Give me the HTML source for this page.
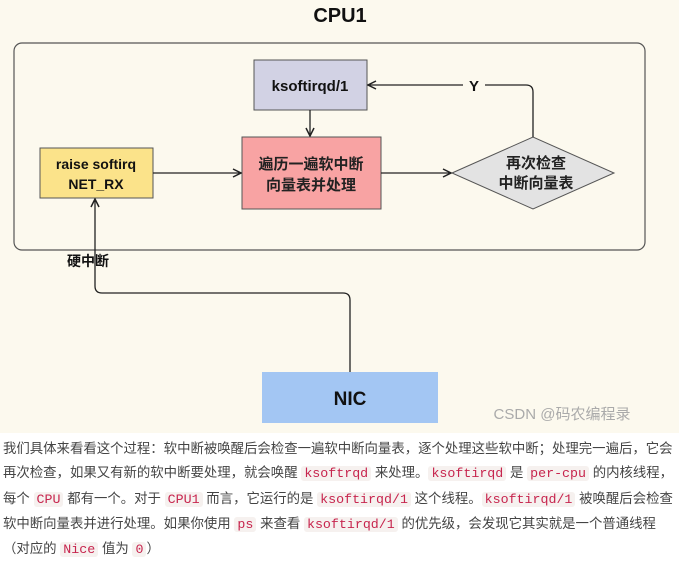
<!DOCTYPE html>
<html><head><meta charset="utf-8"><style>
body{margin:0;width:679px;height:551px;overflow:hidden;background:#fff;font-family:"Liberation Sans","Noto Sans CJK SC",sans-serif;}
#d{position:absolute;left:0;top:0;width:679px;height:433px;background:#fcf9ee;}
#t{position:absolute;left:3px;top:437px;width:690px;font-size:13.4px;line-height:24.3px;color:#444;white-space:nowrap;}
code{font-family:"Liberation Mono",monospace;color:#c7254e;background:#f6f1ef;padding:0 3px;border-radius:3px;font-size:13.3px;}
</style></head><body>
<div id="d">
<svg width="679" height="433" xmlns="http://www.w3.org/2000/svg" font-family="Liberation Sans, Noto Sans CJK SC, sans-serif" font-weight="bold">
<defs><marker id="a" markerWidth="10" markerHeight="10" refX="9" refY="5" orient="auto" markerUnits="userSpaceOnUse"><path d="M1,1 L9,5 L1,9" fill="none" stroke="#222" stroke-width="1.5"/></marker></defs>
<text x="340" y="22" text-anchor="middle" font-size="20" fill="#111">CPU1</text>
<rect x="14" y="43" width="631" height="207" rx="8" fill="none" stroke="#555" stroke-width="1.2"/>
<rect x="254" y="60" width="113" height="50" fill="#d2d2e4" stroke="#555"/>
<text x="310" y="91" text-anchor="middle" font-size="15" fill="#111">ksoftirqd/1</text>
<rect x="242" y="137" width="139" height="72" fill="#f8a3a3" stroke="#555"/>
<text x="311" y="169" text-anchor="middle" font-size="15" fill="#222">遍历一遍软中断</text>
<text x="311" y="190" text-anchor="middle" font-size="15" fill="#222">向量表并处理</text>
<rect x="40" y="148" width="113" height="50" fill="#fbe38a" stroke="#555"/>
<text x="96" y="169" text-anchor="middle" font-size="14" fill="#111">raise softirq</text>
<text x="96" y="189" text-anchor="middle" font-size="14" fill="#111">NET_RX</text>
<polygon points="452,173 533,137 614,173 533,209" fill="#e3e3e3" stroke="#555"/>
<text x="536" y="168" text-anchor="middle" font-size="15" fill="#222">再次检查</text>
<text x="536" y="188" text-anchor="middle" font-size="15" fill="#222">中断向量表</text>
<line x1="310" y1="110" x2="310" y2="136" stroke="#222" stroke-width="1.3" marker-end="url(#a)"/>
<line x1="153" y1="173" x2="241" y2="173" stroke="#222" stroke-width="1.3" marker-end="url(#a)"/>
<line x1="381" y1="173" x2="451" y2="173" stroke="#222" stroke-width="1.3" marker-end="url(#a)"/>
<path d="M533,137 L533,92 Q533,85 526,85 L485,85 M463,85 L368,85" fill="none" stroke="#222" stroke-width="1.3" marker-end="url(#a)"/>
<text x="474" y="91" text-anchor="middle" font-size="15" fill="#111">Y</text>
<path d="M350,372 L350,300 Q350,293 343,293 L102,293 Q95,293 95,286 L95,199" fill="none" stroke="#222" stroke-width="1.3" marker-end="url(#a)"/>
<text x="67" y="266" font-size="14" fill="#111">硬中断</text>
<rect x="262" y="372" width="176" height="51" fill="#a3c6f3"/>
<text x="350" y="405" text-anchor="middle" font-size="19" fill="#111">NIC</text>
<text x="562" y="419" text-anchor="middle" font-size="15" font-weight="normal" fill="#aaa">CSDN @码农编程录</text>
</svg></div>
<div id="t">我们具体来看看这个过程：软中断被唤醒后会检查一遍软中断向量表，逐个处理这些软中断；处理完一遍后，它会<br>再次检查，如果又有新的软中断要处理，就会唤醒 <code>ksoftrqd</code> 来处理。<code>ksoftirqd</code> 是 <code>per-cpu</code> 的内核线程，<br>每个 <code>CPU</code> 都有一个。对于 <code>CPU1</code> 而言，它运行的是 <code>ksoftirqd/1</code> 这个线程。<code>ksoftirqd/1</code> 被唤醒后会检查<br>软中断向量表并进行处理。如果你使用 <code>ps</code> 来查看 <code>ksoftirqd/1</code> 的优先级，会发现它其实就是一个普通线程<br>（对应的 <code>Nice</code> 值为 <code>0</code>）</div>
</body></html>
